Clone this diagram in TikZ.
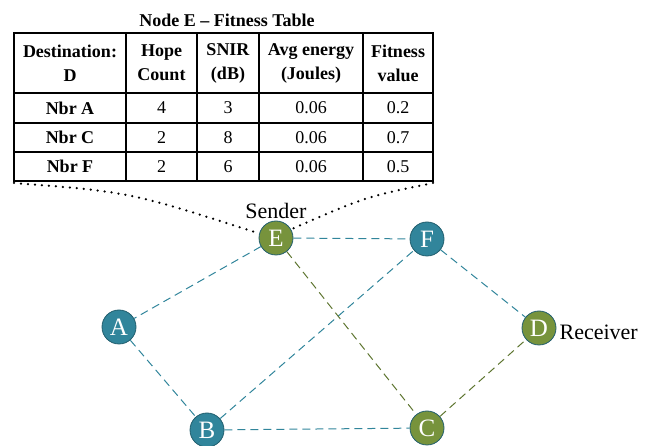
\documentclass[tikz,border=0pt]{standalone}
\usepackage{fontspec}
\setmainfont{Liberation Serif}
\usetikzlibrary{positioning}
\definecolor{relayfill}{HTML}{31859B}
\definecolor{endfill}{HTML}{77933C}
\definecolor{peerline}{HTML}{215E6E}
\definecolor{endlink}{HTML}{5E7530}

\begin{document}
\begin{tikzpicture}[x=1pt, y=-1pt,
       peer/.style = {circle, draw=peerline, line width=0.8pt, minimum size=34pt,
                      inner sep=0pt, text=white, font=\fontsize{25}{25}\selectfont},
      relay/.style = {peer, fill=relayfill},
     endnode/.style = {peer, fill=endfill},
        tag/.style = {inner sep=0pt, font=\fontsize{22}{22}\selectfont},
       link/.style = {dash pattern=on 8pt off 5pt, line width=1pt, draw=relayfill},
    endlinks/.style = {link, draw=endlink},
    dotline/.style = {line width=2.5pt, line cap=round, dash pattern=on 0pt off 7pt},
       cell/.style = {align=center, inner sep=0pt, font=\fontsize{18}{24}\selectfont},
       hcell/.style = {cell, font=\fontsize{18}{24}\selectfont\bfseries}
                    ]
\useasboundingbox (0,0) rectangle (657,446);
% fitness table
\node (title) [hcell, anchor=base] at (227,27) {Node E -- Fitness Table};
\draw[line width=1.6pt] (14,33) rectangle (433,181);
\foreach \x in {126,197,259,363}
  \draw[line width=1.3pt] (\x,33) -- (\x,181);
\foreach \y in {93,123,152}
  \draw[line width=1.3pt] (14,\y) -- (433,\y);
\coordinate (tblSW) at (14,183);
\coordinate (tblSE) at (433,183);
\node (h1) [hcell] at (70,63)    {Destination:\\D};
\node (h2) [hcell] at (161.5,63) {Hope\\Count};
\node (h3) [hcell] at (228,63)   {SNIR\\(dB)};
\node (h4) [hcell] at (311,63)   {Avg energy\\(Joules)};
\node (h5) [hcell] at (398,63)   {Fitness\\value};
\foreach \y/\nbr/\hops/\snir/\fit in {108/A/4/3/0.2, 137.5/C/2/8/0.7, 166.5/F/2/6/0.5}{
  \node (nbr\nbr) [hcell] at (70,\y)    {Nbr \nbr};
  \node (hop\nbr) [cell]  at (161.5,\y) {\hops};
  \node (sn\nbr)  [cell]  at (228,\y)   {\snir};
  \node (en\nbr)  [cell]  at (311,\y)   {0.06};
  \node (fit\nbr) [cell]  at (398,\y)   {\fit};
}
% network
\node (E) [endnode] at (276,238) {E};
\node (F) [relay]   at (427,239) {F};
\node (A) [relay]   at (119,327) {A};
\node (D) [endnode] at (539,328) {D};
\node (B) [relay]   at (207,430) {B};
\node (C) [endnode] at (427,428) {C};
\node (sender)   [tag, above=2pt of E] {Sender};
\node (receiver) [tag, right=3pt of D, yshift=-4pt] {Receiver};
\draw[link] (E) -- (F);
\draw[link] (E) -- (A);
\draw[link] (A) -- (B);
\draw[link] (B) -- (F);
\draw[link] (B) -- (C);
\draw[link] (F) -- (D);
\draw[endlinks] (E) -- (C);
\draw[endlinks] (C) -- (D);
\draw[dotline] (tblSW) .. controls (130,192) .. (E.165);
\draw[dotline] (tblSE) .. controls (365,197) .. (E.30);
\end{tikzpicture}
\end{document}
